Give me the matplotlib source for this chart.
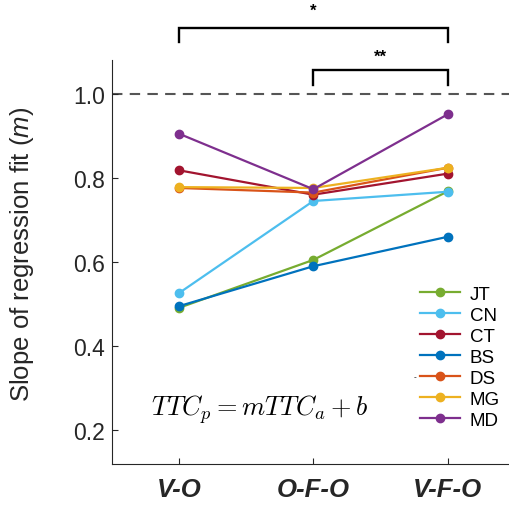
import numpy as np
import matplotlib
matplotlib.use("Agg")
import matplotlib.pyplot as plt

plt.rcParams['font.family'] = ['Liberation Sans', 'DejaVu Sans']
plt.rcParams['mathtext.fontset'] = 'custom'
plt.rcParams['mathtext.rm'] = 'Liberation Sans'
plt.rcParams['mathtext.it'] = 'Liberation Sans:italic'

# conditions and per-subject slopes
conditions = ['V-O', 'O-F-O', 'V-F-O']
subjects = ['JT', 'CN', 'CT', 'BS', 'DS', 'MG', 'MD']
slopes = {
    'JT': [0.491, 0.605, 0.768],
    'CN': [0.526, 0.745, 0.767],
    'CT': [0.818, 0.760, 0.810],
    'BS': [0.495, 0.590, 0.660],
    'DS': [0.776, 0.765, 0.824],
    'MG': [0.778, 0.776, 0.824],
    'MD': [0.905, 0.773, 0.951],
}
colors = {
    'JT': '#77AC30', 'CN': '#4DBEEE', 'CT': '#A2142F', 'BS': '#0072BD',
    'DS': '#D95319', 'MG': '#EDB120', 'MD': '#7E2F8E',
}
# significance brackets: (from, to, label)
brackets = [(1, 3, '*'), (2, 3, '**')]

fig = plt.figure(figsize=(5.09, 5.06), dpi=100)
ax = fig.add_axes([0.2194, 0.081, 0.7923, 0.7984])

x = np.arange(1, len(conditions) + 1)
for s in subjects:
    ax.plot(x, slopes[s], '-o', color=colors[s], lw=1.6, ms=6, label=s)

# identity slope
ax.axhline(1.0, color='#555555', lw=1.5, ls=(0, (5, 3.5)), zorder=0)

ax.set_xlim(0.5, 3.5)
ax.set_ylim(0.12, 1.08)
ax.set_xticks(x)
ax.set_xticklabels(conditions, fontsize=18.5, fontweight='bold', style='italic')
ax.set_yticks([0.2, 0.4, 0.6, 0.8, 1.0])
ax.set_yticklabels(['0.2', '0.4', '0.6', '0.8', '1.0'], fontsize=16.5)
ax.tick_params(direction='in', length=4, width=0.8, colors='#262626', pad=5)
ax.tick_params(axis='x', pad=9)
ax.set_ylabel('Slope of regression fit ($\\mathit{m}$)', fontsize=18.5,
              color='#262626')
ax.yaxis.set_label_coords(-0.187, 0.522)
for side in ['top', 'right']:
    ax.spines[side].set_visible(False)
for side in ['left', 'bottom']:
    ax.spines[side].set_color('#262626')
    ax.spines[side].set_linewidth(0.8)

# brackets above the axes
levels = {'*': (1.156, 1.124, 1.198), '**': (1.057, 1.021, 1.090)}
for x0, x1, lab in brackets:
    top, foot, ty = levels[lab]
    ax.plot([x0, x0, x1, x1], [foot, top, top, foot], color='black', lw=1.7,
            clip_on=False, solid_joinstyle='miter')
    ax.text((x0 + x1) / 2, ty, lab, ha='center', va='center', fontsize=12,
            fontweight='bold')

ax.text(1.604, 0.251, '$TTC_p = mTTC_a + b$', ha='center', va='center',
        fontsize=19, math_fontfamily='cm')

leg = ax.legend(loc='lower right', bbox_to_anchor=(1.005, 0.045), frameon=False,
                fontsize=13.5, handlelength=2.1, handletextpad=0.55,
                labelspacing=0.21)
ax.text(0.752, 0.215, '-', transform=ax.transAxes, fontsize=6, ha='center',
        va='center')

fig.savefig('out.png', dpi=100)
